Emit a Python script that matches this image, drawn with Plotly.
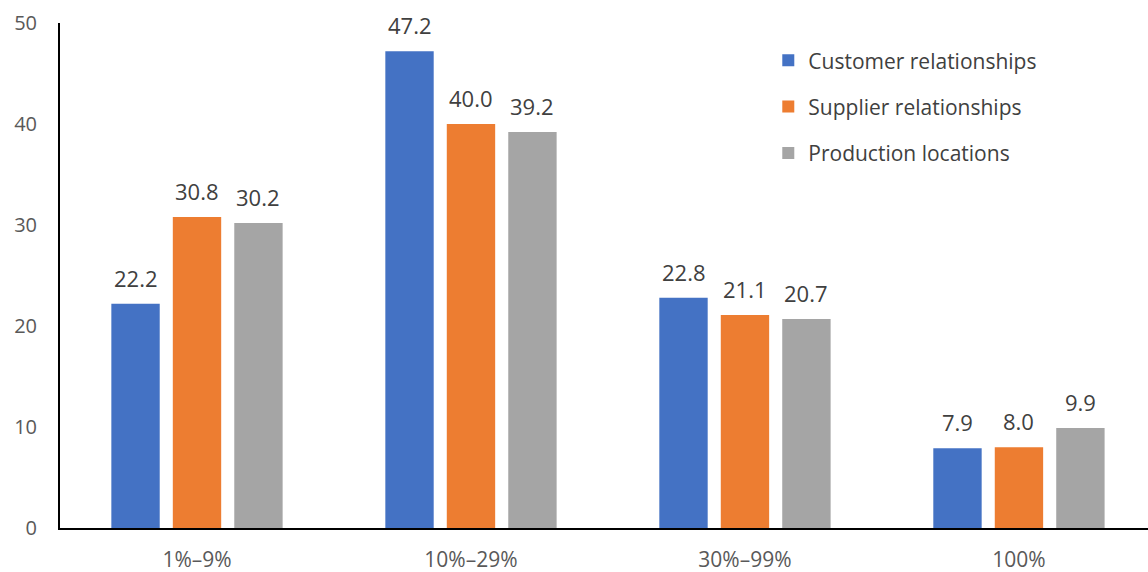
import plotly.graph_objects as go

categories = ["1%–9%", "10%–29%", "30%–99%", "100%"]
customer = [22.2, 47.2, 22.8, 7.9]
supplier = [30.8, 40.0, 21.1, 8.0]
production = [30.2, 39.2, 20.7, 9.9]

series = [
    ("Customer relationships", customer, "#4472C4"),
    ("Supplier relationships", supplier, "#ED7D31"),
    ("Production locations", production, "#A5A5A5"),
]

font_family = "Open Sans, Liberation Sans, sans-serif"
text_color = "#404040"
tick_color = "#595959"

width, height = 1148, 572
margin = dict(l=60, r=0, t=23, b=44)
x_range = [-0.5, 3.471]
bargap = 0.327
bargroupgap = 0.213

fig = go.Figure()
for i, (name, vals, color) in enumerate(series):
    fig.add_trace(go.Bar(
        name=name,
        x=categories,
        y=vals,
        marker=dict(color=color, line=dict(width=0)),
        legendgroup=f"g{i}",
    ))

# value labels above each bar, shifted sideways to the bar's slot in its group
plot_w = width - margin["l"] - margin["r"]
cat_px = plot_w / (x_range[1] - x_range[0])
slot_px = cat_px * (1 - bargap) / len(series)
annotations = []
for i, (name, vals, color) in enumerate(series):
    for cat, v in zip(categories, vals):
        annotations.append(dict(
            x=cat, y=v, xref="x", yref="y",
            text=f"{v:.1f}", showarrow=False,
            xanchor="center", yanchor="bottom",
            xshift=(i - (len(series) - 1) / 2) * slot_px,
            yshift=9,
            font=dict(size=22, color=text_color, family=font_family),
        ))

fig.update_layout(
    width=width,
    height=height,
    margin=margin,
    paper_bgcolor="white",
    plot_bgcolor="white",
    barmode="group",
    bargap=bargap,
    bargroupgap=bargroupgap,
    font=dict(family=font_family, size=20, color=text_color),
    showlegend=True,
    legend=dict(
        x=0.651, y=0.966, xanchor="left", yanchor="top",
        font=dict(size=21, color=text_color),
        tracegroupgap=16,
        bgcolor="rgba(0,0,0,0)",
    ),
    annotations=annotations,
    xaxis=dict(
        range=x_range,
        showline=True, linecolor="black", linewidth=2,
        ticks="", showgrid=False, zeroline=False,
        tickfont=dict(size=21, color=tick_color),
        ticklabelstandoff=12,
    ),
    yaxis=dict(
        range=[0, 50], dtick=10,
        showline=True, linecolor="black", linewidth=2,
        ticks="", showgrid=False, zeroline=False,
        tickfont=dict(size=20, color=tick_color),
        ticklabelstandoff=17,
    ),
)

fig.write_html("out.html")
